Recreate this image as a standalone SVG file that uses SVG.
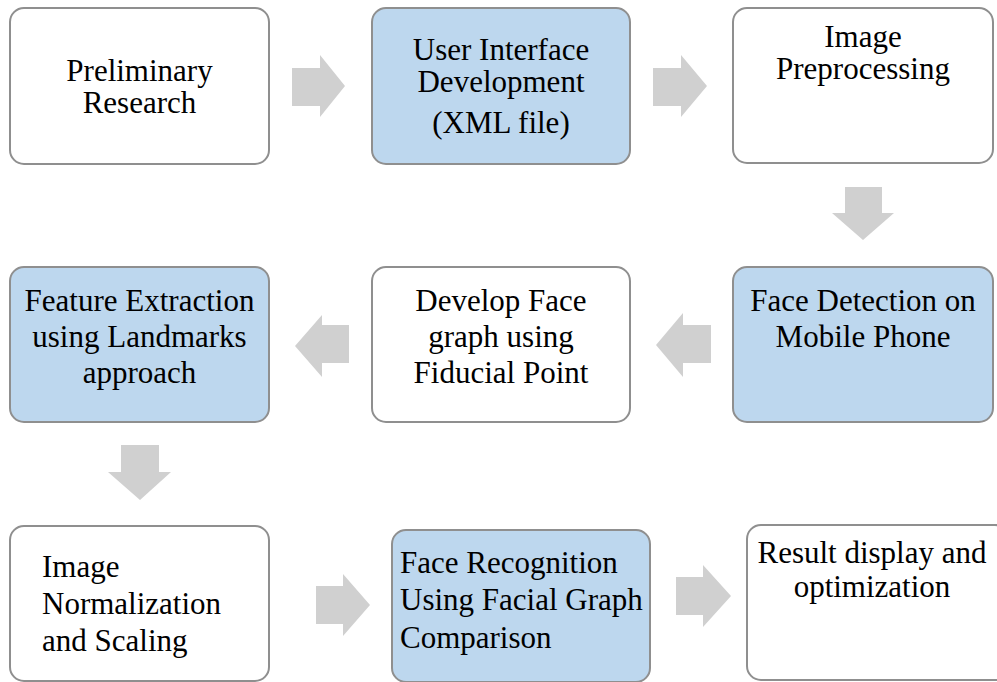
<svg xmlns="http://www.w3.org/2000/svg" width="997" height="682" viewBox="0 0 997 682">
<style>
.box{stroke:#8f8f8f;stroke-width:2;fill:#ffffff}
.blue{fill:#bdd7ee}
.t{font-family:"Liberation Serif","Times New Roman",serif;font-size:31px;fill:#000}
.c{text-anchor:middle}
.arr{fill:#d0d0d0}
</style>
<rect width="997" height="682" fill="#ffffff"/>
<g id="connectors">
<polygon class="arr" points="292,68 320,68 320,55 345,86 320,117 320,106 292,106"/>
<polygon class="arr" points="653,68 681,68 681,55 707,86 681,117 681,106 653,106"/>
<polygon class="arr" points="845,187 882,187 882,213 894,213 863,240 832,213 845,213"/>
<polygon class="arr" points="349,325 322,325 322,315 295,346 322,377 322,363 349,363"/>
<polygon class="arr" points="711,325 683,325 683,313 656,345 683,377 683,363 711,363"/>
<polygon class="arr" points="121,445 159,445 159,472 171,472 140,500 108,472 121,472"/>
<polygon class="arr" points="316,586 343,586 343,574 370,605 343,636 343,624 316,624"/>
<polygon class="arr" points="676,577 703,577 703,565 731,596 703,627 703,615 676,615"/>
</g>
<g id="n1">
<rect class="box" x="10" y="8" width="259" height="156" rx="14"/>
<text class="t c" x="139.5" y="81">Preliminary</text>
<text class="t c" x="139.5" y="113">Research</text>
</g>
<g id="n2">
<rect class="box blue" x="372" y="8" width="258" height="156" rx="14"/>
<text class="t c" x="501" y="60">User Interface</text>
<text class="t c" x="501" y="92">Development</text>
<text class="t c" x="501" y="133">(XML file)</text>
</g>
<g id="n3">
<rect class="box" x="733" y="8" width="260" height="155" rx="14"/>
<text class="t c" x="863" y="47">Image</text>
<text class="t c" x="863" y="79">Preprocessing</text>
</g>
<g id="n4">
<rect class="box blue" x="733" y="267" width="260" height="155" rx="14"/>
<text class="t c" x="863" y="311">Face Detection on</text>
<text class="t c" x="863" y="347">Mobile Phone</text>
</g>
<g id="n5">
<rect class="box" x="372" y="267" width="258" height="155" rx="14"/>
<text class="t c" x="501" y="311">Develop Face</text>
<text class="t c" x="501" y="347">graph using</text>
<text class="t c" x="501" y="383">Fiducial Point</text>
</g>
<g id="n6">
<rect class="box blue" x="10" y="267" width="259" height="155" rx="14"/>
<text class="t c" x="139.5" y="311">Feature Extraction</text>
<text class="t c" x="139.5" y="347">using Landmarks</text>
<text class="t c" x="139.5" y="383">approach</text>
</g>
<g id="n7">
<rect class="box" x="10" y="526" width="259" height="155" rx="14"/>
<text class="t" x="42" y="577">Image</text>
<text class="t" x="42" y="614">Normalization</text>
<text class="t" x="42" y="651">and Scaling</text>
</g>
<g id="n8">
<rect class="box blue" x="392" y="530" width="258" height="152" rx="14"/>
<text class="t" x="400" y="573">Face Recognition</text>
<text class="t" x="400" y="610">Using Facial Graph</text>
<text class="t" x="400" y="648">Comparison</text>
</g>
<g id="n9">
<rect class="box" x="747" y="525" width="262" height="155" rx="14"/>
<text class="t c" x="872" y="563">Result display and</text>
<text class="t c" x="872" y="597">optimization</text>
</g>
</svg>
